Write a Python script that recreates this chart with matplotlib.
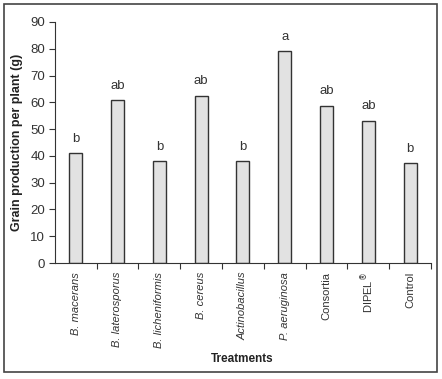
import matplotlib.pyplot as plt
from matplotlib.patches import Rectangle

plt.rcParams['font.family'] = ['Liberation Sans Narrow', 'Liberation Sans', 'DejaVu Sans']

treatments = ['B. macerans', 'B. laterosporus', 'B. licheniformis', 'B. cereus',
              'Actinobacillus', 'P. aeruginosa', 'Consortia', 'DIPEL$^{®}$', 'Control']
italic = [True, True, True, True, True, True, False, False, False]
grain = [41, 60.7, 38, 62.5, 38, 79, 58.7, 53.2, 37.3]
letters = ['b', 'ab', 'b', 'ab', 'b', 'a', 'ab', 'ab', 'b']
yticks = [0, 10, 20, 30, 40, 50, 60, 70, 80, 90]

fig = plt.figure(figsize=(4.42, 3.79), dpi=100)
ax = fig.add_axes([0.124, 0.306, 0.851, 0.636])

x = list(range(len(treatments)))
ax.bar(x, grain, width=0.31, color='#e2e2e2', edgecolor='#333333', linewidth=1.0)

for xi, v, l in zip(x, grain, letters):
    ax.text(xi, v + 3.2, l, ha='center', va='bottom', fontsize=9.5, color='#333333')

ax.set_xlim(-0.5, len(treatments) - 0.5)
ax.set_ylim(0, 90)
ax.set_yticks(yticks)
ax.tick_params(axis='y', labelsize=9.5, colors='#333333', direction='out', length=4, pad=3)
ax.set_xticks([i + 0.5 for i in x])
ax.set_xticklabels([])
ax.tick_params(axis='x', direction='out', length=4, colors='#333333')
for xi, t, it in zip(x, treatments, italic):
    ax.text(xi, -3.3, t, rotation=90, ha='center', va='top', fontsize=8,
            style='italic' if it else 'normal', color='#333333')

for s in ['top', 'right']:
    ax.spines[s].set_visible(False)
for s in ['left', 'bottom']:
    ax.spines[s].set_color('#333333')

ax.set_ylabel('Grain production per plant (g)', fontsize=9, fontweight='bold',
              color='#222222', labelpad=5)
fig.text(0.547, 0.053, 'Treatments', ha='center', va='center', fontsize=8.5,
         fontweight='bold', color='#222222')

fig.patches.append(Rectangle((0.009, 0.018), 0.98, 0.971, transform=fig.transFigure,
                             fill=False, edgecolor='#444444', linewidth=1.2))

fig.savefig('out.png', dpi=100)
